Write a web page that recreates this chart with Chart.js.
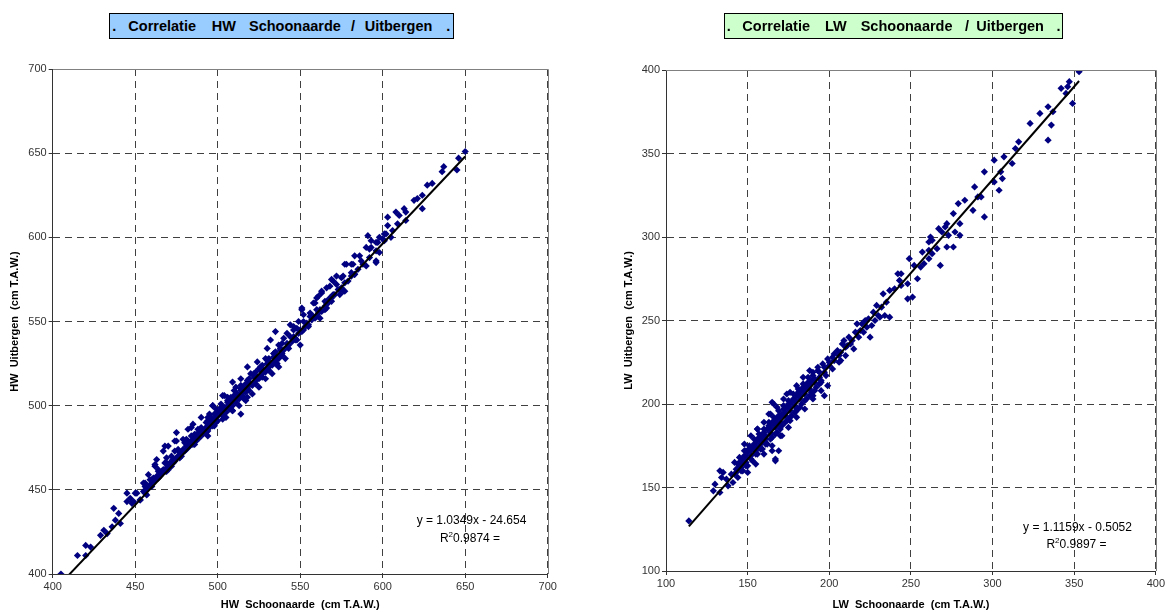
<!DOCTYPE html>
<html><head><meta charset="utf-8">
<script src="https://cdn.jsdelivr.net/npm/chart.js@4.4.0/dist/chart.umd.min.js"></script>
<style>
html,body{margin:0;padding:0;background:#fff;width:1167px;height:612px;overflow:hidden;font-family:"Liberation Sans",Arial,sans-serif;}
canvas{position:absolute;top:0;}
#c1{left:0;} #c2{left:583px;}
.box{position:absolute;border:1px solid #000;box-sizing:border-box;}
.tw{position:absolute;font:bold 14.5px "Liberation Sans",Arial,sans-serif;line-height:1;white-space:pre;color:#000;top:19.4px;}
.eq{position:absolute;width:220px;text-align:center;font:12px "Liberation Sans",Arial,sans-serif;line-height:14px;color:#000;white-space:pre;}
.eq sup{font-size:8px;line-height:0;vertical-align:5px;}
</style></head>
<body>
<canvas id="c1" width="583" height="612"></canvas>
<canvas id="c2" width="584" height="612"></canvas>

<div class="box" style="left:109px;top:13px;width:345px;height:26px;background:#99CCFF;"></div>
<div class="tw" style="left:112.3px">.</div>
<div class="tw" style="left:128.3px">Correlatie</div>
<div class="tw" style="left:211.7px">HW</div>
<div class="tw" style="left:249px">Schoonaarde</div>
<div class="tw" style="left:351px">/</div>
<div class="tw" style="left:364.7px">Uitbergen</div>
<div class="tw" style="left:446.3px">.</div>

<div class="box" style="left:724px;top:13px;width:339px;height:26px;background:#CCFFCC;"></div>
<div class="tw" style="left:726.7px">.</div>
<div class="tw" style="left:742.3px">Correlatie</div>
<div class="tw" style="left:825px">LW</div>
<div class="tw" style="left:860.7px">Schoonaarde</div>
<div class="tw" style="left:965px">/</div>
<div class="tw" style="left:976.3px">Uitbergen</div>
<div class="tw" style="left:1056.5px">.</div>

<div class="eq" style="left:361.5px;top:513px">y = 1.0349x - 24.654</div>
<div class="eq" style="left:360px;top:530.7px">R<sup>2</sup>0.9874 =</div>
<div class="eq" style="left:967.5px;top:519.7px">y = 1.1159x - 0.5052</div>
<div class="eq" style="left:966.5px;top:537.3px">R<sup>2</sup>0.9897 =</div>

<script>
// ---------- DATA ----------
const hwTicks = [400, 450, 500, 550, 600, 650, 700];
const lwTicks = [100, 150, 200, 250, 300, 350, 400];
const hwTrend = [[405, 394.48], [650, 648.03]];
const lwTrend = [[114, 126.71], [353, 393.41]];

const hwOuter = [
 [650,651],[646,647],[645,640],[637,642],[636,639],[630,632],[627,631],[624,625],[621,623],[619,622],[624,617],[614,615],[613,617],[608,615],[610,613],[614,610],[609,608],[603,612],[603,607],[601,602],[598,600],[591,601],[596,597],[593,598],[590,594],[592,593],[605,600],[601,598],[596,586],[590,583],[587,586],[586,589],[583,589],[581,584],[577,584],[581,579],[583,578],[576,577],[572,577],[570,574],[568,571],[574,569],[576,568],[563,568],[566,570],[561,565],[558,561],[565,562],[569,562],[574,566],[551,558],[552,554],[560,553],[566,558],[546,547],[555,547],[542,543],
 [606,604],[602,602],[600,599],[597,597],[593,594],[598,591],[596,585],[578,584],[582,584],[575,576],[572,572],[569,575],[577,568],[563,567],[568,564],[560,564],[559,561],[566,562],[565,557],[551,557],[556,555],[562,552],[549,550],[552,545],[546,545],[544,548],[535,544],[540,540],[548,539],[550,536],[532,539],[537,536],[530,534],[534,531],[529,528],[536,525],[524,526],[525,522],[518,523],[520,519],[514,516],[524,517],[509,514],[517,513],[511,511],[514,509],[504,506],[508,505],[518,505],[506,503],[516,504],[497,500],[504,499],[509,497],[500,496],[496,493],[503,492],[490,493],[493,490],[498,488],[485,489],[489,486],[482,486],[475,484],[479,480],[474,479],[491,484],[494,482],[470,476],[467,473],[474,473],[477,470],[463,468],[469,466],[462,464],[466,461],[458,459],[461,457],[455,454],[456,449],[451,448],[453,444],[449,443],
 [405,400],[415,411],[420,417],[420,411],[423,416],[429,423],[431,426],[433,424],[436,428],[437,439],[438,432],[440,436],[441,430],[445,448],[445,443],[447,445],[448,442],[450,448],[453,444],[456,452],[457,447],[456,454],[459,456],[462,465],[464,462],[468,476],[469,469],[475,479],[473,468],[479,473],[481,480],[484,487],[487,483],[492,485],[494,493],[497,500],[499,495],[503,506],[504,496],[508,500],[512,507],[514,495]
];
const hwCore = [
 [455,449],[457,451],[459,453],[461,455],[463,458],[465,459],[467,462],[469,463],[471,466],[473,468],[475,469],[477,472],[479,474],[481,476],[483,478],[485,480],[487,481],[489,484],[491,485],[493,487],[495,490],[497,491],[499,493],[501,495],
 [456,448],[460,452],[464,457],[468,461],[472,464],[476,470],[480,473],[484,477],[488,482],[492,486],[496,489],[500,494],[504,497],[508,501],[512,505],[516,509],[520,513],[524,517],[528,521],[532,525],[536,529],[540,533],
 [462,456],[466,460],[470,464],[474,467],[478,472],[482,475],[486,479],[490,484],[494,488],[498,492],[502,497],[506,500],[510,503],[514,506],[518,510],[522,514],[526,518],[530,522],[534,526],[538,530],[542,535],
 [470,462],[478,470],[486,477],[494,485],[500,491],[503,494],[507,498],[511,502],[515,506],[519,509],[523,513],[527,517],[531,521],[535,525],[539,530],[543,534],[547,539],
 [503,499],[507,503],[511,507],[515,511],[519,516],[523,520],[527,524],[531,528],[535,532],[539,537],[544,541],[548,546],[552,550],[556,553],[560,557],
 [545,538],[549,543],[553,547],[557,551],[561,555],[565,559],[569,564],[573,569],[577,573],[581,577],[585,581],
 [505,496],[509,500],[513,504],[517,508],[521,512],[525,516],[529,520],[533,524],[537,528],
 [497,488],[493,484],[489,481],[485,477],[481,474],[477,469],[473,466],[469,461],[465,458],
 [495,495],[499,498],[502,501],[506,505],[510,509],[514,512],[518,515],[522,519],[526,523],[530,527],[534,531],[538,534],
 [505,493],[509,497],[513,500],[517,503],[521,507],[525,511],[529,516],[533,519],[537,523],[541,528],
 [488,486],[484,482],[480,478],[476,474],[472,470],[468,466],[464,461],[460,456],
 [482,479],[486,483],[490,487],[494,491],[498,495],[502,499],[506,502],[510,506],[514,510],[518,513],[522,517],[526,521],[530,525],[534,529],[538,533],[542,537],[546,541],[550,545],[554,549],[558,553],[562,557],[566,561],[570,566],
 [483,476],[487,479],[491,483],[495,487],[499,490],[503,496],[507,500],[511,504],[515,508],[519,512],[523,515],[527,519],[531,523],[535,527],[539,531],[543,536],[547,540],[551,544],[555,548],[559,552],[563,556],[567,561],[571,566],[575,570],[579,574],[583,578],[588,584],[592,588],[596,592]
];

const lwOuter = [
 [353,399],[347,393],[342,389],[346,390],[345,386],[349,380],[337,375],[334,378],[329,374],[336,367],[334,358],[323,368],[316,357],[314,353],[312,344],[307,348],[305,339],[306,335],[301,346],[304,328],[301,333],[295,339],[289,330],[291,324],[293,324],[295,312],[288,316],[283,322],[279,320],[276,314],[280,308],[272,308],[271,306],[267,305],[269,303],[277,303],[280,301],[273,301],[262,300],[261,297],[263,298],[266,293],[272,294],[276,294],[261,292],[268,283],[263,290],[257,291],[261,287],[258,284],[256,282],[249,287],[252,283],[254,275],[248,272],[242,278],[244,278],[243,274],[244,271],[240,269],[237,268],[251,264],[248,263],[233,266],[235,261],[232,258],[231,252],[237,252],[234,253],
 [114,130],[129,148],[130,152],[133,160],[135,159],[134,156],[137,155],[133,147],[138,151],[142,158],[145,162],[147,167],[149,172],[153,174],[156,185],[159,180],[163,194],[165,201],[166,200],[167,167],[165,172],[169,172],[167,166],[161,176],[164,182],[169,188],[174,206],[179,202],[182,208],[186,210],[190,205],[195,214],[197,205],[199,211],[180,196],[176,190],[171,181]
];
const lwCore = [
 [140,158],[143,161],[146,164],[149,168],[152,172],[155,175],[158,178],[161,181],[164,185],[167,188],[170,192],[173,195],[176,198],[179,202],[182,205],[185,208],[188,212],[191,215],[194,219],[197,222],[200,225],
 [142,165],[145,168],[148,172],[151,175],[154,179],[157,182],[160,185],[163,189],[166,192],[169,196],[172,199],[175,202],[178,206],[181,209],[184,212],[187,216],[190,219],[193,222],
 [141,153],[144,156],[147,160],[150,163],[153,166],[156,170],[159,173],[162,176],[165,180],[168,183],[171,187],[174,190],[177,193],[180,197],[183,200],[186,203],[189,207],[192,210],[195,213],[198,217],[202,221],[206,225],
 [148,176],[152,181],[156,185],[160,189],[164,194],[168,198],[172,203],[176,207],[180,211],[184,216],[188,220],
 [150,159],[155,164],[160,170],[165,175],[170,181],[175,186],[180,192],[185,197],[190,203],[195,208],
 [144,164],[147,167],[150,171],[153,174],[156,178],[159,181],[162,185],[165,188],[168,191],[171,194],[174,198],[177,201],[180,205],[183,208],[186,211],[189,214],
 [146,162],[149,165],[152,169],[155,172],[158,176],[161,179],[164,183],[167,186],[170,189],[173,193],[176,196],[179,199],[182,203],[185,206],[188,209],[191,213],[194,216],[197,219],[200,223],[203,226],[207,231],[210,234],
 [202,228],[205,232],[208,236],[210,229],[212,240],[213,236],[215,233],[216,243],[218,240],[220,248],[221,243],[223,246],[224,251],[225,240],[227,255],[228,250],[229,259],[230,253],[226,247],[219,244],[214,238],[211,235],[206,229],[203,230],[207,226],[209,238],[217,248],[222,250],
 [145,165],[148,169],[151,173],[154,176],[157,180],[160,183],[163,187],[166,190],[169,193],[172,197],[175,200],[178,203],[181,207],[184,210],[187,213],[190,217],[193,220],[196,224],[199,227],
 [143,159],[146,160],[149,163],[152,167],[155,170],[158,173],[161,177],[164,179],[167,182],[170,185],[173,189],[176,192],[179,195],[182,198],[185,202],[188,205],[191,208],[194,212]
];

// ---------- CHART ----------
const FONT = '"Liberation Sans", Arial, sans-serif';
const frame = {
  id: 'frame',
  afterDraw(c) {
    const a = c.chartArea, ctx = c.ctx;
    ctx.save();
    ctx.strokeStyle = '#808080'; ctx.lineWidth = 1;
    ctx.beginPath();
    ctx.moveTo(Math.round(a.left), Math.round(a.top) + 0.5);
    ctx.lineTo(Math.round(a.right) + 0.5, Math.round(a.top) + 0.5);
    ctx.lineTo(Math.round(a.right) + 0.5, Math.round(a.bottom));
    ctx.stroke();
    ctx.restore();
  }
};

function axis(ticks, title, fitKey, fitVal) {
  return {
    type: 'linear', min: ticks[0], max: ticks[ticks.length - 1],
    afterBuildTicks: s => { s.ticks = ticks.map(v => ({ value: v })); },
    afterFit: s => { s[fitKey] = fitVal; },
    grid: { color: '#404040', lineWidth: 1, borderDash: [7, 5], tickLength: 4, tickColor: '#333', tickBorderDash: [] },
    border: { display: true, color: '#333', width: 1, dash: [7, 5] },
    ticks: { color: '#333', font: { family: FONT, size: 11 }, padding: 2, maxRotation: 0, autoSkip: false },
    title: { display: true, text: title, color: '#000', font: { family: FONT, size: 11, weight: 'bold' }, padding: { top: 0, bottom: 0 } }
  };
}

function make(id, outer, core, trend, ticks, xTitle, yTitle, pad, yW, xH) {
  const pts = outer.concat(core).map(p => ({ x: p[0], y: p[1] }));
  new Chart(document.getElementById(id), {
    type: 'scatter',
    data: {
      datasets: [
        { type: 'line', data: trend.map(p => ({ x: p[0], y: p[1] })), borderColor: '#000', borderWidth: 2, pointRadius: 0, showLine: true, fill: false },
        { data: pts, pointStyle: 'rectRot', pointRadius: 3.6, backgroundColor: '#000080', borderColor: '#000080', borderWidth: 0 }
      ]
    },
    options: {
      responsive: false, animation: false, devicePixelRatio: 1,
      layout: { padding: pad },
      plugins: { legend: { display: false }, tooltip: { enabled: false } },
      scales: {
        x: axis(ticks.x, xTitle, 'height', xH),
        y: axis(ticks.y, yTitle, 'width', yW)
      }
    },
    plugins: [frame]
  });
}

make('c1', hwOuter, hwCore, hwTrend, { x: hwTicks, y: hwTicks },
  'HW  Schoonaarde  (cm T.A.W.)', 'HW  Uitbergen  (cm T.A.W.)',
  { left: 8, top: 69, right: 35.3, bottom: 0 }, 44.7, 38);
make('c2', lwOuter, lwCore, lwTrend, { x: lwTicks, y: lwTicks },
  'LW  Schoonaarde  (cm T.A.W.)', 'LW  Uitbergen  (cm T.A.W.)',
  { left: 39, top: 70, right: 8, bottom: 0 }, 44, 41);
</script>
</body></html>
